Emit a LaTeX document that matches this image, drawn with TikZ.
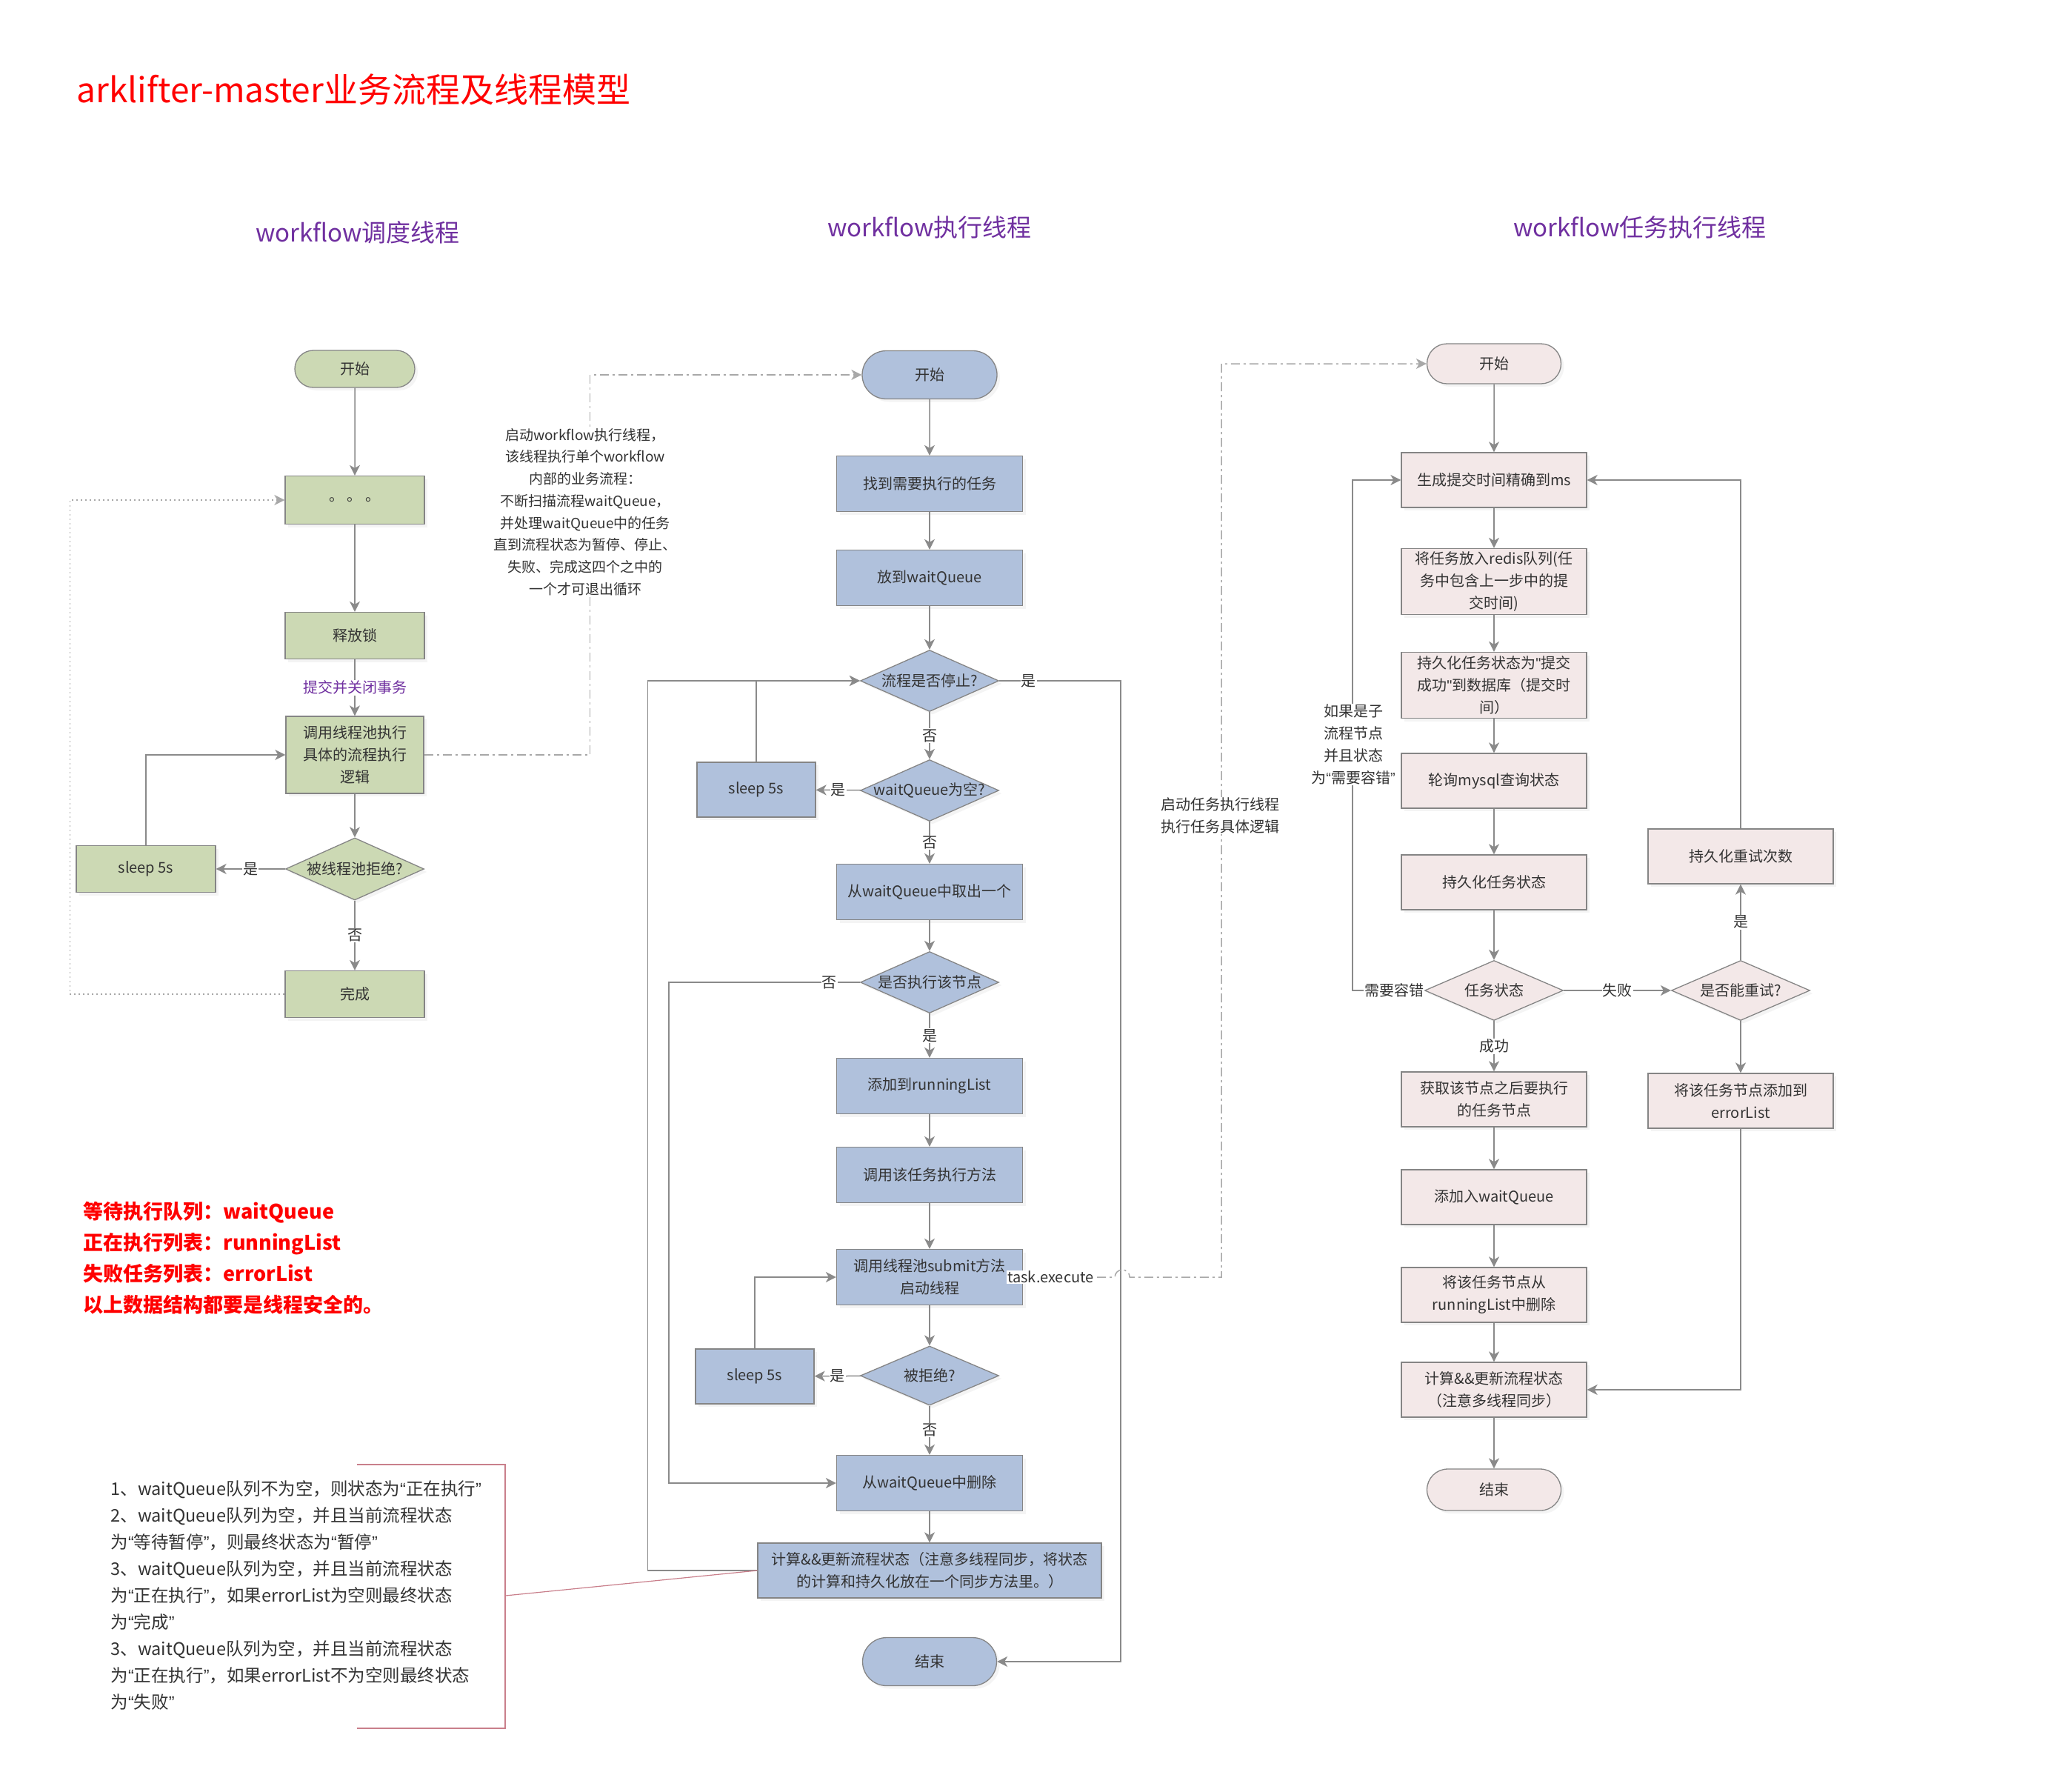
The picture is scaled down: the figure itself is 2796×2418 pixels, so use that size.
\documentclass[tikz,border=0pt]{standalone}
\usepackage{fontspec}
\setmainfont{Noto Sans CJK SC}
\newfontfamily\quotefont{Liberation Sans}
\usetikzlibrary{arrows.meta,shapes.geometric,shapes.misc,shadows}
\definecolor{grnfill}{HTML}{CCD9B4}
\definecolor{bluefill}{HTML}{B0C1DC}
\definecolor{pinkfill}{HTML}{F3E8E8}
\definecolor{boxline}{HTML}{858585}
\definecolor{lncol}{HTML}{8A8A8A}
\definecolor{dashcol}{HTML}{A8A8A8}
\definecolor{txtcol}{HTML}{333333}
\definecolor{titlered}{HTML}{FF0000}
\definecolor{purp}{HTML}{7030A0}
\definecolor{notecol}{HTML}{C97F8B}
\newcommand{\dtxt}[1]{\makebox[0pt]{#1}}
\newcommand{\qopen}{{\quotefont “}}
\newcommand{\qclose}{{\quotefont ”}}
\newcommand{\qstraight}{{\quotefont "}}
\tikzset{
  every node/.style={text=txtcol, font=\fontsize{20}{30}\selectfont},
  boxbase/.style={draw=boxline, line width=1.3pt, align=center, inner sep=3pt,
    drop shadow={shadow xshift=4pt, shadow yshift=-4pt, fill=black!8}},
  gbox/.style={boxbase, rectangle, fill=grnfill, minimum width=188pt, minimum height=63pt},
  bbox/.style={boxbase, rectangle, fill=bluefill, minimum width=251pt, minimum height=75pt},
  pbox/.style={boxbase, rectangle, fill=pinkfill, minimum width=250pt, minimum height=74pt},
  pill/.style={boxbase, rounded rectangle, minimum width=188pt, minimum height=60pt},
  decision/.style={boxbase, diamond, inner sep=0pt, minimum width=187pt, minimum height=83pt},
  flow/.style={draw=lncol, line width=1.5pt, -{Stealth[length=14pt,width=14pt,inset=4pt]}},
  dashdot/.style={flow, draw=dashcol, dash pattern=on 12pt off 5pt on 3pt off 5pt},
  dotline/.style={flow, draw=dashcol, dash pattern=on 2pt off 4pt},
  lbl/.style={fill=white, inner sep=1pt},
  coltitle/.style={text=purp, font=\fontsize{33}{40}\selectfont}
}
\begin{document}
\begin{tikzpicture}[x=1pt,y=-1pt]
    \useasboundingbox (0,0) rectangle (2796,2418);
    \fill[white] (0,0) rectangle (2796,2418);

    \node[anchor=west, text=titlered, font=\fontsize{46}{52}\selectfont] (title) at (100,121) {arklifter-master业务流程及线程模型};
    \node[coltitle] (ltitle) at (483,314) {workflow调度线程};
    \node[coltitle] (mtitle) at (1255,307) {workflow执行线程};
    \node[coltitle] (rtitle) at (2214,307) {workflow任务执行线程};

    \node[pill, fill=grnfill, minimum width=168pt, minimum height=50pt] (lstart) at (479,498) {开始};
    \node[gbox, minimum height=65pt] (ldots) at (479,675) {。 。 。};
    \node[gbox] (lrelease) at (479,858) {释放锁};
    \node[gbox, minimum width=186pt, minimum height=104pt] (linvoke) at (479,1019) {调用线程池执行\\具体的流程执行\\逻辑};
    \node[decision, fill=grnfill, minimum height=84pt] (lreject) at (479,1173) {\dtxt{被线程池拒绝?}};
    \node[gbox] (lsleep) at (197,1173) {sleep 5s};
    \node[gbox] (ldone) at (479,1342) {完成};

    \draw[flow] (lstart) -- (ldots);
    \draw[flow] (ldots) -- (lrelease);
    \draw[flow] (lrelease) -- node[lbl, text=purp] {提交并关闭事务} (linvoke);
    \draw[flow] (linvoke) -- (lreject);
    \draw[flow] (lreject) -- node[lbl] {是} (lsleep);
    \draw[flow] (lsleep.north) |- (linvoke.west);
    \draw[flow] (lreject) -- node[lbl] {否} (ldone);
    \draw[dotline] (ldone.west) -- ++(-290,0) |- (ldots.west);

    \node[pill, fill=bluefill, minimum height=65pt] (mstart) at (1255,506) {开始};
    \node[bbox] (mfind) at (1255,653) {找到需要执行的任务};
    \node[bbox] (mput) at (1255,780) {放到waitQueue};
    \node[decision, fill=bluefill] (mstop) at (1255,919) {\dtxt{流程是否停止?}};
    \node[decision, fill=bluefill] (mempty) at (1255,1067) {\dtxt{waitQueue为空?}};
    \node[bbox, minimum width=160pt, minimum height=74pt] (msleepA) at (1021,1066) {sleep 5s};
    \node[bbox] (mtake) at (1255,1204) {从waitQueue中取出一个};
    \node[decision, fill=bluefill] (mexec) at (1255,1326) {\dtxt{是否执行该节点}};
    \node[bbox] (madd) at (1255,1466) {添加到runningList};
    \node[bbox] (mcall) at (1255,1586) {调用该任务执行方法};
    \node[bbox] (msubmit) at (1255,1724) {调用线程池submit方法\\启动线程};
    \node[decision, fill=bluefill, minimum height=80pt] (mreject) at (1255,1857) {\dtxt{被拒绝?}};
    \node[bbox, minimum width=160pt, minimum height=74pt] (msleepB) at (1019,1858) {sleep 5s};
    \node[bbox] (mdel) at (1255,2002) {从waitQueue中删除};
    \node[bbox, minimum width=464pt, minimum height=74pt] (mcalc) at (1255,2120) {计算\&\&更新流程状态（注意多线程同步，将状态\\的计算和持久化放在一个同步方法里。）};
    \node[pill, fill=bluefill, minimum width=187pt, minimum height=65pt] (mend) at (1255,2243) {结束};

    \draw[flow] (mstart) -- (mfind);
    \draw[flow] (mfind) -- (mput);
    \draw[flow] (mput) -- (mstop);
    \draw[flow] (mstop.east) -- node[lbl, pos=0.24] {是} ++(164,0) |- (mend.east);
    \draw[flow] (mstop) -- node[lbl] {否} (mempty);
    \draw[flow] (mempty) -- node[lbl] {是} (msleepA);
    \draw[flow] (msleepA.north) |- (mstop.west);
    \draw[flow] (mcalc.west) -- ++(-148,0) |- (mstop.west);
    \draw[flow] (mempty) -- node[lbl] {否} (mtake);
    \draw[flow] (mtake) -- (mexec);
    \draw[flow] (mexec.west) -- node[lbl, pos=0.16] {否} ++(-258,0) |- (mdel.west);
    \draw[flow] (mexec) -- node[lbl] {是} (madd);
    \draw[flow] (madd) -- (mcall);
    \draw[flow] (mcall) -- (msubmit);
    \draw[flow] (msubmit) -- (mreject);
    \draw[flow] (mreject) -- node[lbl] {是} (msleepB);
    \draw[flow] (msleepB.north) |- (msubmit.west);
    \draw[flow] (mreject) -- node[lbl] {否} (mdel);
    \draw[flow] (mdel) -- (mcalc);

    \draw[dashdot] (linvoke.east) -- ++(224,0) |- (mstart.west);
    \node[lbl, align=center, font=\fontsize{19}{29.7}\selectfont] (lnote) at (790,691) {启动workflow执行线程，\\该线程执行单个workflow\\内部的业务流程：\\不断扫描流程waitQueue，\\并处理waitQueue中的任务\\直到流程状态为暂停、停止、\\失败、完成这四个之中的\\一个才可退出循环};

    \node[pill, fill=pinkfill, minimum width=187pt, minimum height=54pt] (rstart) at (2017,491) {开始};
    \node[pbox] (rgen) at (2017,648) {生成提交时间精确到ms};
    \node[pbox, minimum height=89pt] (rredis) at (2017,785) {将任务放入redis队列(任\\务中包含上一步中的提\\交时间)};
    \node[pbox, minimum height=89pt] (rpersist) at (2017,925) {持久化任务状态为\qstraight 提交\\成功\qstraight 到数据库（提交时\\间）};
    \node[pbox] (rpoll) at (2017,1054) {轮询mysql查询状态};
    \node[pbox] (rstate) at (2017,1191) {持久化任务状态};
    \node[decision, fill=pinkfill, minimum height=81pt] (rstatus) at (2017,1337) {\dtxt{任务状态}};
    \node[decision, fill=pinkfill, minimum height=81pt] (rretry) at (2350,1337) {\dtxt{是否能重试?}};
    \node[pbox] (rretrycnt) at (2350,1156) {持久化重试次数};
    \node[pbox] (rerr) at (2350,1486) {将该任务节点添加到\\errorList};
    \node[pbox] (rfetch) at (2017,1484) {获取该节点之后要执行\\的任务节点};
    \node[pbox] (rwait) at (2017,1616) {添加入waitQueue};
    \node[pbox] (rremove) at (2017,1748) {将该任务节点从\\runningList中删除};
    \node[pbox] (rcalc) at (2017,1876) {计算\&\&更新流程状态\\（注意多线程同步）};
    \node[pill, fill=pinkfill, minimum width=187pt, minimum height=56pt] (rend) at (2017,2011) {结束};

    \draw[flow] (rstart) -- (rgen);
    \draw[flow] (rgen) -- (rredis);
    \draw[flow] (rredis) -- (rpersist);
    \draw[flow] (rpersist) -- (rpoll);
    \draw[flow] (rpoll) -- (rstate);
    \draw[flow] (rstate) -- (rstatus);
    \draw[flow] (rstatus.west) -- node[lbl, pos=0.42] {需要容错} ++(-97,0) |- (rgen.west);
    \draw[flow] (rstatus) -- node[lbl] {失败} (rretry);
    \draw[flow] (rretry) -- node[lbl] {是} (rretrycnt);
    \draw[flow] (rretrycnt.north) |- (rgen.east);
    \draw[flow] (rretry) -- (rerr);
    \draw[flow] (rerr.south) |- (rcalc.east);
    \draw[flow] (rstatus) -- node[lbl] {成功} (rfetch);
    \draw[flow] (rfetch) -- (rwait);
    \draw[flow] (rwait) -- (rremove);
    \draw[flow] (rremove) -- (rcalc);
    \draw[flow] (rcalc) -- (rend);
    \node[lbl, align=center] (rsublbl) at (1827,1005) {如果是子\\流程节点\\并且状态\\为\qopen 需要容错\qclose};

    \draw[dashdot] (msubmit.east) -- node[lbl, pos=0.3] {task.execute} ++(124,0) arc[start angle=180, end angle=0, radius=10pt] -- ++(124,0) |- (rstart.west);
    \node[lbl, align=center] (tasklbl) at (1647,1101) {启动任务执行线程\\执行任务具体逻辑};

    \node[anchor=west, align=left, text=titlered, font=\fontsize{27}{42}\selectfont\bfseries] (legend) at (109,1698) {等待执行队列：waitQueue\\正在执行列表：runningList\\失败任务列表：errorList\\以上数据结构都要是线程安全的。};

    \coordinate (notetip) at (682,2154);
    \draw[notecol, line width=1.2pt] (482,1977) -- (682,1977) -- (682,2333) -- (482,2333);
    \draw[notecol, line width=1.2pt] (mcalc.west) -- (notetip);
    \node[anchor=west, align=left, font=\fontsize{23.5}{36}\selectfont] (statenote) at (146,2153) {1、waitQueue队列不为空，则状态为\qopen 正在执行\qclose\\2、waitQueue队列为空，并且当前流程状态\\为\qopen 等待暂停\qclose ，则最终状态为\qopen 暂停\qclose\\3、waitQueue队列为空，并且当前流程状态\\为\qopen 正在执行\qclose ，如果errorList为空则最终状态\\为\qopen 完成\qclose\\3、waitQueue队列为空，并且当前流程状态\\为\qopen 正在执行\qclose ，如果errorList不为空则最终状态\\为\qopen 失败\qclose};
\end{tikzpicture}
\end{document}
